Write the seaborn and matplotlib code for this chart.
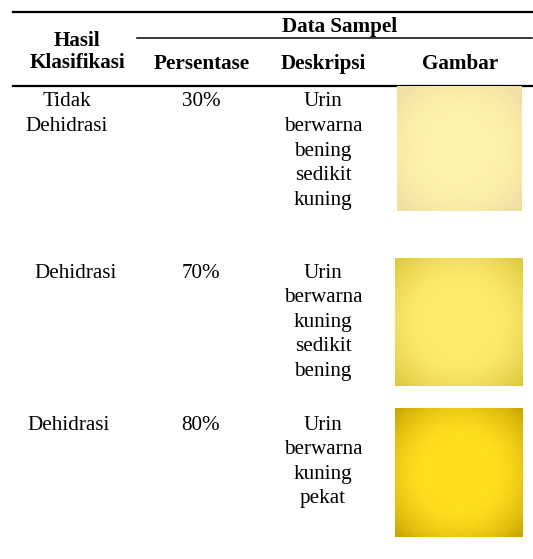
import numpy as np
import seaborn as sns
import matplotlib.pyplot as plt
from matplotlib.colors import LinearSegmentedColormap

plt.rcParams["font.family"] = ["Liberation Serif", "DejaVu Serif"]

# === TABLE CONTENT ===
klasifikasi = ["Tidak\nDehidrasi", "Dehidrasi", "Dehidrasi"]
persentase = ["30%", "70%", "80%"]
deskripsi = [
    "Urin\nberwarna\nbening\nsedikit\nkuning",
    "Urin\nberwarna\nkuning\nsedikit\nbening",
    "Urin\nberwarna\nkuning\npekat",
]
# sample photo colours: centre / edge of each swatch
warna_tengah = ["#fdf2a8", "#fde96e", "#ffdd1e"]
warna_tepi = ["#ecdca2", "#dcc83a", "#c9a300"]

# === LAYOUT (pixels) ===
W, H = 533, 559
row_top = [102, 273, 425]
klas_x = [67, 76, 69]
swatch_box = [(397, 86, 125, 125), (395, 258, 128, 128), (395, 408, 128, 129)]
line_h = 24.6
fs = 15.2

fig = plt.figure(figsize=(W / 100, H / 100), dpi=100)
ax = fig.add_axes([0, 0, 1, 1])
ax.set_xlim(0, W)
ax.set_ylim(H, 0)
ax.axis("off")

# rules
ax.plot([13, 532], [12, 12], color="black", lw=1.6)
ax.plot([137, 532], [38, 38], color="black", lw=1.1)
ax.plot([13, 532], [86, 86], color="black", lw=1.6)

# header
hdr = dict(fontsize=fs, fontweight="bold", ha="center", va="center")
ax.text(340, 27, "Data Sampel", **hdr)
ax.text(77, 41, "Hasil", **hdr)
ax.text(77, 63, "Klasifikasi", **hdr)
ax.text(202, 64, "Persentase", **hdr)
ax.text(323, 64, "Deskripsi", **hdr)
ax.text(460, 64, "Gambar", **hdr)

body = dict(fontsize=fs, ha="center", va="center")
for i in range(3):
    for j, s in enumerate(klasifikasi[i].split("\n")):
        ax.text(klas_x[i], row_top[i] + j * line_h, s, **body)
    ax.text(201, row_top[i], persentase[i], **body)
    for j, s in enumerate(deskripsi[i].split("\n")):
        ax.text(323, row_top[i] + j * line_h, s, **body)

# swatches as vignette heatmaps
n = 64
yy, xx = np.mgrid[-1:1:n * 1j, -1:1:n * 1j]
r = np.sqrt(xx ** 2 + yy ** 2) / np.sqrt(2)
vign = np.clip((r - 0.4) / 0.6, 0, 1) ** 1.6
for i, (x0, y0, w, h) in enumerate(swatch_box):
    sax = fig.add_axes([x0 / W, 1 - (y0 + h) / H, w / W, h / H])
    cmap = LinearSegmentedColormap.from_list("v", [warna_tengah[i], warna_tepi[i]])
    sns.heatmap(vign, ax=sax, cmap=cmap, vmin=0, vmax=1, cbar=False,
                xticklabels=False, yticklabels=False)
    sax.set_axis_off()

fig.savefig("out.png", dpi=100)
